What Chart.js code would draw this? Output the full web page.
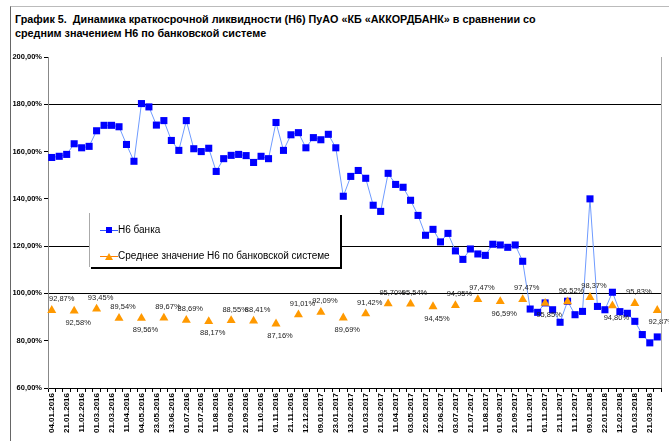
<!DOCTYPE html>
<html>
<head>
    <title>График 5. Динамика Н6</title>
    <script src="https://cdn.jsdelivr.net/npm/chart.js"></script>
    <style>
        body {
            margin: 0;
            background: #fff;
            font-family: "Liberation Sans", Arial, sans-serif;
        }
        .wrap {
            position: relative;
            width: 669px;
            height: 441px;
            overflow: hidden;
        }
        .frame {
            position: absolute;
            left: 10px;
            top: 6px;
            width: 700px;
            height: 500px;
            border-left: 1px solid #666;
            border-top: 1px solid #bbb;
        }
        .title {
            position: absolute;
            left: 15px;
            top: 12px;
            font-weight: bold;
            font-size: 10.8px;
            line-height: 14px;
            color: #000;
            white-space: nowrap;
        }
        canvas {
            position: absolute;
            left: 0;
            top: 0;
        }
        .legend {
            position: absolute;
            left: 89px;
            top: 213px;
            width: 250px;
            height: 54px;
            background: #fff;
            border-left: 1px solid #aaa;
            box-shadow: 2px 2px 0 #000;
            font-size: 10px;
            color: #000;
        }
        .legend .row {
            position: absolute;
            left: 10px;
            height: 12px;
            line-height: 12px;
            white-space: nowrap;
        }
        .legend .mark {
            display: inline-block;
            position: relative;
            width: 18px;
            height: 12px;
            vertical-align: top;
        }
        .legend .mark i {
            position: absolute;
            left: 0;
            top: 6px;
            width: 18px;
            height: 1px;
        }
        .legend .sq {
            position: absolute;
            left: 6px;
            top: 3px;
            width: 6px;
            height: 6px;
            background: #0000ff;
        }
        .legend .tri {
            position: absolute;
            left: 5px;
            top: 3px;
            width: 0;
            height: 0;
            border-left: 4px solid transparent;
            border-right: 4px solid transparent;
            border-bottom: 7px solid #ff9900;
        }
    </style>
</head>
<body>
<div class="wrap">
    <div class="frame"></div>
    <div class="title">График 5.&nbsp; Динамика краткосрочной ликвидности (Н6) ПуАО «КБ «АККОРДБАНК» в сравнении со<br>средним значением Н6 по банковской системе</div>
    <canvas id="n6Chart" width="669" height="441"></canvas>
    <div class="legend">
        <div class="row" style="top:11px"><span class="mark"><i style="background:#3355ff"></i><span class="sq"></span></span>Н6 банка</div>
        <div class="row" style="top:37px"><span class="mark"><i style="background:#ff8000"></i><span class="tri"></span></span>Среднее значение Н6 по банковской системе</div>
    </div>
</div>

<script>
    // dates shown on the x axis (every second observation)
    const dateLabels = [
        '04.01.2016', '21.01.2016', '11.02.2016', '01.03.2016', '21.03.2016', '11.04.2016',
        '04.05.2016', '23.05.2016', '13.06.2016', '01.07.2016', '21.07.2016', '11.08.2016',
        '01.09.2016', '21.09.2016', '11.10.2016', '01.11.2016', '21.11.2016', '12.12.2016',
        '09.01.2017', '23.01.2017', '13.02.2017', '01.03.2017', '21.03.2017', '11.04.2017',
        '03.05.2017', '22.05.2017', '12.06.2017', '03.07.2017', '21.07.2017', '11.08.2017',
        '01.09.2017', '21.09.2017', '11.10.2017', '01.11.2017', '21.11.2017', '11.12.2017',
        '09.01.2018', '22.01.2018', '12.02.2018', '01.03.2018', '21.03.2018'
    ];

    // Н6 банка, %
    const bankN6 = [
        157.5, 158.0, 158.8, 163.3, 161.6, 162.2, 168.8, 171.1, 171.1, 170.5,
        163.0, 155.9, 180.3, 178.9, 171.2, 173.1, 164.7, 160.5, 173.1, 161.2,
        160.0, 161.4, 151.6, 157.0, 158.4, 158.8, 158.3, 155.4, 158.0, 157.0,
        172.3, 160.5, 167.1, 168.0, 161.6, 165.9, 165.0, 167.3, 161.6, 141.1,
        149.5, 152.0, 148.7, 137.3, 134.7, 150.8, 146.1, 144.9, 139.4, 133.0,
        124.6, 127.1, 121.8, 125.4, 118.0, 114.4, 118.8, 116.7, 116.1, 120.8,
        120.5, 119.5, 120.5, 113.6, 93.4, 92.0, 96.0, 93.1, 87.8, 96.7,
        91.0, 92.4, 140.0, 94.5, 93.1, 100.5, 92.3, 91.6, 88.2, 82.6,
        79.1, 81.6
    ];

    // среднее значение Н6 по банковской системе (monthly, every third observation)
    const systemN6 = [
        92.87, 92.58, 93.45, 89.54, 89.56, 89.67, 88.69, 88.17, 88.55, 88.41,
        87.16, 91.01, 92.09, 89.69, 91.42, 95.70, 95.54, 94.45, 94.95, 97.47,
        96.59, 97.47, 95.85, 96.52, 98.37, 94.80, 95.83, 92.87
    ];

    // which system labels sit under their marker
    const labelsBelow = [1, 4, 7, 10, 13, 17, 20, 22, 25, 27];

    const categories = bankN6.map((v, i) => (i % 2 === 0 ? dateLabels[i / 2] : ''));
    const systemSeries = bankN6.map((v, i) => (i % 3 === 0 ? systemN6[i / 3] : null));

    const fmt = v => v.toFixed(2).replace('.', ',') + '%';

    const valueLabels = {
        id: 'valueLabels',
        afterDatasetsDraw(chart) {
            const meta = chart.getDatasetMeta(1);
            const ctx = chart.ctx;
            ctx.save();
            ctx.font = '7.5px "Liberation Sans", Arial, sans-serif';
            ctx.fillStyle = '#222';
            ctx.textAlign = 'center';
            ctx.textBaseline = 'middle';
            meta.data.forEach((pt, i) => {
                const v = systemSeries[i];
                if (v == null) return;
                const k = i / 3;
                const dy = labelsBelow.includes(k) ? 12 : -11;
                const dx = k === 0 ? 10 : 4;
                ctx.fillText(fmt(v), pt.x + dx, pt.y + dy);
            });
            ctx.restore();
        }
    };

    const rightBorder = {
        id: 'rightBorder',
        afterDraw(chart) {
            const a = chart.chartArea;
            const ctx = chart.ctx;
            ctx.save();
            ctx.strokeStyle = '#aaa';
            ctx.lineWidth = 1;
            ctx.beginPath();
            ctx.moveTo(Math.round(a.right) + 0.5, a.top);
            ctx.lineTo(Math.round(a.right) + 0.5, a.bottom);
            ctx.stroke();
            ctx.restore();
        }
    };

    const shownGrid = [180, 120, 100];

    new Chart(document.getElementById('n6Chart'), {
        type: 'line',
        data: {
            labels: categories,
            datasets: [
                {
                    label: 'Н6 банка',
                    data: bankN6,
                    borderColor: '#6f9bff',
                    borderWidth: 1,
                    pointStyle: 'rect',
                    pointRadius: 5,
                    pointBorderWidth: 0,
                    pointBackgroundColor: '#0000ff',
                    order: 1
                },
                {
                    label: 'Среднее значение Н6 по банковской системе',
                    data: systemSeries,
                    showLine: false,
                    pointStyle: 'triangle',
                    pointRadius: 5.2,
                    pointBorderWidth: 0,
                    pointBackgroundColor: '#ff9900',
                    borderColor: '#ff9900',
                    order: 0
                }
            ]
        },
        options: {
            responsive: false,
            animation: false,
            layout: {
                padding: { top: 57, right: 8, left: 0, bottom: 0 }
            },
            plugins: {
                legend: { display: false },
                tooltip: { enabled: false }
            },
            scales: {
                x: {
                    offset: true,
                    afterFit: s => { s.height = 53; },
                    grid: {
                        offset: true,
                        drawOnChartArea: false,
                        tickLength: 4,
                        color: '#000'
                    },
                    border: { color: '#000', width: 1 },
                    ticks: {
                        autoSkip: false,
                        minRotation: 90,
                        maxRotation: 90,
                        padding: 1,
                        color: '#000',
                        font: { family: '"Liberation Sans", Arial, sans-serif', size: 8, weight: 'bold' }
                    }
                },
                y: {
                    min: 60,
                    max: 200,
                    afterFit: s => { s.width = 48; },
                    grid: {
                        color: c => (shownGrid.includes(c.tick.value) ? '#000' : 'rgba(0,0,0,0)'),
                        tickColor: '#000',
                        tickLength: 4
                    },
                    border: { color: '#888', width: 1 },
                    ticks: {
                        stepSize: 20,
                        padding: 2,
                        color: '#000',
                        callback: v => fmt(v),
                        font: { family: '"Liberation Sans", Arial, sans-serif', size: 7.5, weight: 'bold' }
                    }
                }
            }
        },
        plugins: [valueLabels, rightBorder]
    });
</script>
</body>
</html>
